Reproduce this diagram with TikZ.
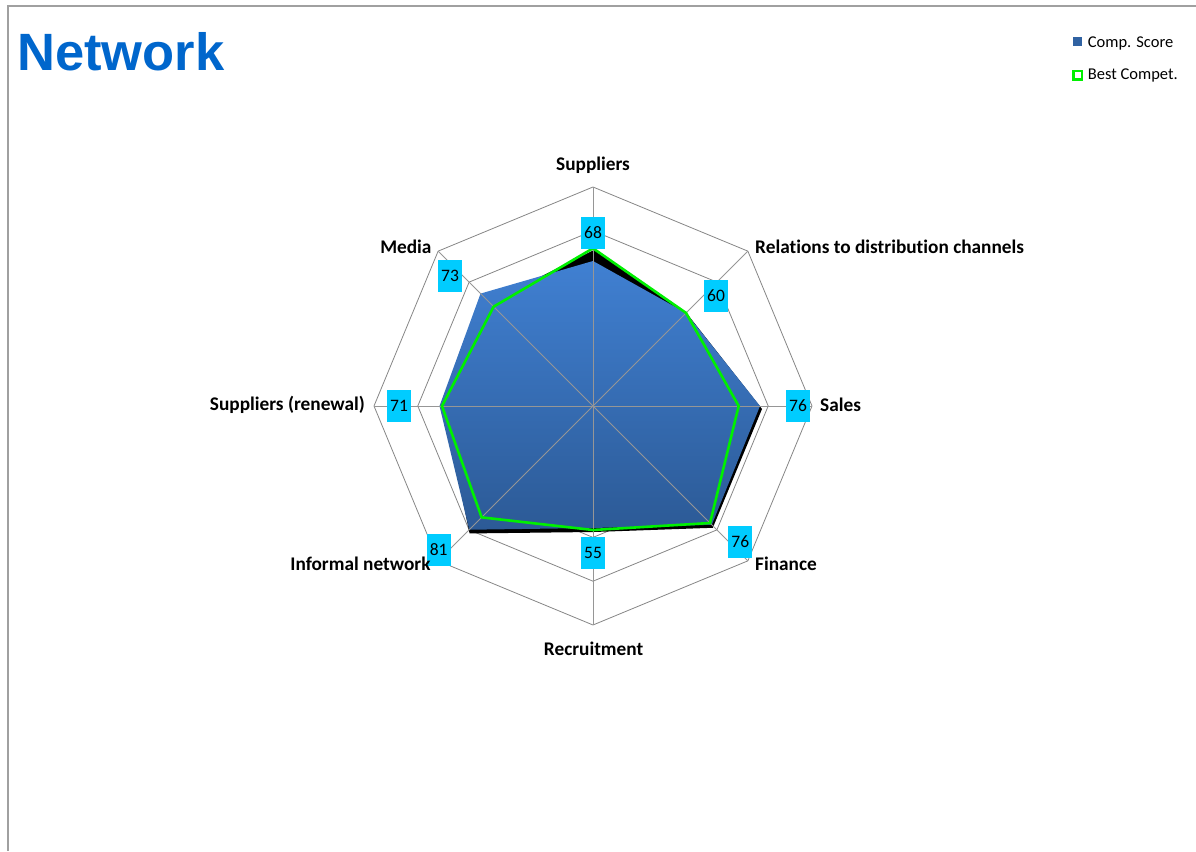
\documentclass[tikz,border=0pt]{standalone}
\usepackage{fontspec}
\setmainfont{Carlito}[Ligatures=NoCommon]
\newfontfamily\headfont{Liberation Sans}
\usetikzlibrary{positioning}

\definecolor{framegray}{RGB}{160,160,160}
\definecolor{ringgray}{RGB}{134,134,134}
\definecolor{spokegray}{RGB}{150,150,150}
\definecolor{labelcyan}{RGB}{0,204,255}
\definecolor{titleblue}{RGB}{0,102,204}
\definecolor{bestgreen}{RGB}{0,240,0}
\definecolor{topblue}{RGB}{64,128,210}
\definecolor{botblue}{RGB}{44,90,150}

\begin{document}
\begin{tikzpicture}[x=1pt,y=1pt,
    ring/.style={draw=ringgray,line width=0.8pt},
    spoke/.style={draw=spokegray,line width=0.8pt},
    val/.style={fill=labelcyan,minimum width=24pt,minimum height=32pt,inner sep=0pt,font=\fontsize{17.5}{20}\selectfont},
    axis/.style={inner sep=0pt,font=\fontsize{19.3}{23}\selectfont\bfseries},
    legtext/.style={inner sep=0pt,anchor=base west,font=\fontsize{16.5}{20}\selectfont}]
    \useasboundingbox (-593,-445) rectangle (603,406);
    \draw[framegray,line width=1.3pt] (-585,-445) -- (-585,400) -- (603,400);
    \node[anchor=base west,inner sep=0pt,text=titleblue,font=\headfont\fontsize{52.5}{60}\selectfont\bfseries] (title) at (-576,335) {Network};
    % legend
    \node[fill=botblue!80!topblue,minimum size=9pt,inner sep=0pt] (compkey) at (484.8,364.3) {};
    \node[legtext] (comptext) at (494.7,358.7) {Comp. Score};
    \node[draw=bestgreen,line width=2.6pt,minimum size=8.7pt,inner sep=0pt] (bestkey) at (484.7,330.7) {};
    \node[legtext] (besttext) at (494.7,326) {Best Compet.};
    % grid
    \coordinate (c) at (0,0);
    \foreach \r in {43.8,87.6,131.4,175.2,219}
        \draw[ring] (90:\r) -- (45:\r) -- (0:\r) -- (-45:\r) -- (-90:\r) -- (-135:\r) -- (180:\r) -- (135:\r) -- cycle;
    % comp. score with its shadow
    \fill[black,shift={(1,-3)}] (90:159) -- (45:133) -- (0:168) -- (-45:168) -- (-90:123) -- (-135:176) -- (180:150) -- (135:150) -- cycle;
    \shade[top color=topblue,bottom color=botblue] (90:145) -- (45:131.6) -- (0:167) -- (-45:168) -- (-90:122) -- (-135:175) -- (180:153.5) -- (135:159) -- cycle;
    \foreach \a in {90,45,...,-225}
        \draw[spoke] (c) -- (\a:219);
    % best compet.
    \draw[bestgreen,line width=2.6pt] (90:157.7) -- (45:131.6) -- (0:145.7) -- (-45:165.5) -- (-90:124) -- (-135:157.5) -- (180:151) -- (135:140.5) -- cycle;
    % values
    \node[val] (v1) at (0,173) {68};
    \node[val] (v2) at (123,110) {60};
    \node[val] (v3) at (205,0) {76};
    \node[val] (v4) at (147.3,-136) {76};
    \node[val] (v5) at (0,-146.7) {55};
    \node[val] (v6) at (-154.3,-144) {81};
    \node[val] (v7) at (-194,0) {71};
    \node[val] (v8) at (-143,130) {73};
    % axis names
    \node[axis,anchor=base] (a1) at (0,235.3) {Suppliers};
    \node[axis,anchor=base west] (a2) at (162,152) {Relations to distribution channels};
    \node[axis,anchor=base west] (a3) at (227,-5.7) {Sales};
    \node[axis,anchor=base west] (a4) at (162,-164.7) {Finance};
    \node[axis,anchor=base] (a5) at (0.6,-249) {Recruitment};
    \node[axis,anchor=base east] (a6) at (-162.3,-164.7) {Informal network};
    \node[axis,anchor=base east] (a7) at (-228,-4.7) {Suppliers (renewal)};
    \node[axis,anchor=base east] (a8) at (-161.3,152.7) {Media};
\end{tikzpicture}
\end{document}
